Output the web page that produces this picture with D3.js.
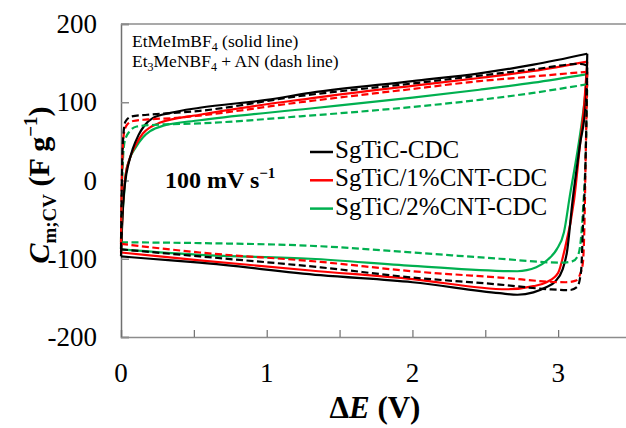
<!DOCTYPE html>
<meta charset="utf-8">
<html>
  <head>
    <style>
      body { margin: 0; background: #fff; }
      svg text { font-family: "Liberation Serif", "Times New Roman", serif; fill: #000; }
    </style>
  </head>
  <body>
    <div id="chart"></div>
  </body>
<script src="https://d3js.org/d3.v7.min.js"></script>
<script>
// CV curves, potential (V) vs specific capacitance (F/g); each loop = forward sweep then reverse sweep
var sgticIL = [[0,-97],[0.005,-70],[0.015,-30],[0.03,0],[0.05,20],[0.08,40],[0.12,58],[0.16,70],[0.22,80],[0.34,86.5],[0.54,93],[1.0,103],[1.3,112],[2.0,127],[2.46,137],[2.83,148],[3.2,162],
  [3.19,100],[3.15,46],[3.1,-24],[3.06,-92],[3.03,-114],[2.98,-129],[2.91,-137],[2.83,-143],[2.72,-146],[2.6,-144],[2.0,-130],[1.37,-121],[0.54,-105],[0.2,-100],[0,-97]]
var cnt1IL = [[0,-92],[0.005,-65],[0.015,-25],[0.03,5],[0.06,28],[0.1,45],[0.15,60],[0.2,68],[0.27,74],[0.54,84],[1.3,105],[2.0,121],[2.46,131],[2.83,140],[3.2,152],
  [3.18,100],[3.15,46],[3.11,-24],[3.04,-92],[3.0,-118],[2.92,-130],[2.83,-135],[2.65,-139],[2.0,-126],[1.3,-115],[0.54,-102],[0,-92]]
var cnt2IL = [[0,-88],[0.005,-60],[0.02,-20],[0.034,10],[0.06,28],[0.1,42],[0.15,55],[0.2,63],[0.29,70],[0.54,77],[1.3,92],[2.0,106],[2.46,116],[2.83,125],[3.2,136],
  [3.18,100],[3.14,46],[3.08,-20],[3.04,-66],[2.99,-88],[2.93,-101],[2.85,-111],[2.72,-116],[2.0,-109],[1.3,-100],[0.54,-95],[0,-88]]
var sgticAN = [[0,-88],[0.003,-40],[0.008,20],[0.015,55],[0.03,75],[0.073,82],[0.18,84],[0.54,89],[1.23,108],[2.0,124],[2.46,134],[2.83,142],[3.15,149],[3.2,147],
  [3.19,40],[3.17,-60],[3.16,-110],[3.15,-125],[3.13,-136],[3.08,-140],[2.94,-139],[2.6,-133],[2.0,-124],[1.37,-111],[0.54,-97],[0,-88]]
var cnt1AN = [[0,-81],[0.003,-30],[0.01,30],[0.02,60],[0.04,71],[0.083,76],[0.18,78],[0.38,80],[0.54,83],[1.23,100],[2.0,117],[2.46,127],[2.83,133],[3.2,139],
  [3.19,40],[3.18,-60],[3.17,-105],[3.15,-120],[3.12,-128],[3.05,-130],[2.6,-124],[2.0,-116],[1.37,-104],[0.54,-92],[0,-81]]
var cnt2AN = [[0,-79],[0.004,-30],[0.012,20],[0.025,50],[0.06,63],[0.108,69],[0.27,71.5],[0.54,73],[1.23,82],[2.0,94],[2.46,103],[2.83,112],[3.2,123],
  [3.19,40],[3.17,-40],[3.15,-85],[3.13,-98],[3.1,-103],[3.02,-105],[2.6,-100],[2.0,-92],[1.37,-84],[0.54,-80],[0,-79]]

var seriesNames = ["SgTiC-CDC", "SgTiC/1%CNT-CDC", "SgTiC/2%CNT-CDC"]
var seriesColors = ["#000000", "#ff0000", "#00b050"]
var yTicks = [-200, -100, 0, 100, 200]
var xLabelTicks = [0, 1, 2, 3]
var xMinorTicks = [0, 0.5, 1, 1.5, 2, 2.5, 3, 3.5]

var W = 626, H = 428

var svg = d3.select("#chart").append("svg")
  .attr("width", W).attr("height", H)
  .attr("font-family", "'Liberation Serif', 'Times New Roman', serif")

var x = d3.scaleLinear().domain([0, 3.5]).range([121, 631])
var y = d3.scaleLinear().domain([-200, 200]).range([337, 24])

// frame top
svg.append("line")
  .attr("x1", x(0)).attr("x2", W).attr("y1", y(200)).attr("y2", y(200))
  .style("stroke", "#8c8c8c").style("stroke-width", 1.5)

// y axis
var yAxis = svg.append("g")
  .attr("transform", "translate(" + x(0) + ",0)")
  .call(d3.axisRight(y).tickValues(yTicks).tickSize(8).tickFormat(""))
yAxis.select(".domain").style("stroke", "#707070").style("stroke-width", 1.5)
yAxis.selectAll(".tick line").style("stroke", "#8c8c8c").style("stroke-width", 1.5)

svg.selectAll(".ylab")
  .data(yTicks)
  .enter().append("text")
    .attr("x", 97)
    .attr("y", function(d) { return y(d) + 9 })
    .attr("text-anchor", "end")
    .style("font-size", "27px")
    .text(function(d) { return d })

// x axis
var xAxis = svg.append("g")
  .attr("transform", "translate(0," + y(-200) + ")")
  .call(d3.axisTop(x).tickValues(xMinorTicks).tickSize(7).tickFormat(""))
xAxis.select(".domain").style("stroke", "#8c8c8c").style("stroke-width", 1.5)
xAxis.selectAll(".tick line").style("stroke", "#707070").style("stroke-width", 1.2)

svg.selectAll(".xlab")
  .data(xLabelTicks)
  .enter().append("text")
    .attr("x", function(d) { return x(d) })
    .attr("y", 382)
    .attr("text-anchor", "middle")
    .style("font-size", "27px")
    .text(function(d) { return d })

// curves: split each loop into forward and reverse sweep so monotone interpolation works
var line = d3.line()
  .x(function(d) { return x(d[0]) })
  .y(function(d) { return y(d[1]) })
  .curve(d3.curveMonotoneX)

function branches(pts) {
  var iMax = d3.maxIndex(pts, function(d) { return d[0] })
  var fwd = pts.slice(0, iMax + 1)
  var rev = pts.slice(iMax).reverse()
  return [fwd, rev]
}

var curves = [
  {data: cnt2IL, color: seriesColors[2], dash: null},
  {data: cnt1IL, color: seriesColors[1], dash: null},
  {data: sgticIL, color: seriesColors[0], dash: null},
  {data: cnt2AN, color: seriesColors[2], dash: "7,3.5"},
  {data: cnt1AN, color: seriesColors[1], dash: "7,3.5"},
  {data: sgticAN, color: seriesColors[0], dash: "7,3.5"}
]

var paths = []
curves.forEach(function(c) {
  branches(c.data).forEach(function(b) { paths.push({pts: b, color: c.color, dash: c.dash}) })
})

svg.selectAll(".cv")
  .data(paths)
  .enter().append("path")
    .attr("d", function(d) { return line(d.pts) })
    .style("fill", "none")
    .style("stroke", function(d) { return d.color })
    .style("stroke-width", 2.2)
    .style("stroke-linejoin", "round")
    .style("stroke-dasharray", function(d) { return d.dash })

// electrolyte notes
var note1 = svg.append("text").attr("x", 132).attr("y", 47).style("font-size", "17.5px")
note1.append("tspan").text("EtMeImBF")
note1.append("tspan").attr("dy", 4).style("font-size", "12px").text("4")
note1.append("tspan").attr("dy", -4).text(" (solid line)")
var note2 = svg.append("text").attr("x", 132).attr("y", 67).style("font-size", "17.5px")
note2.append("tspan").text("Et")
note2.append("tspan").attr("dy", 4).style("font-size", "12px").text("3")
note2.append("tspan").attr("dy", -4).text("MeNBF")
note2.append("tspan").attr("dy", 4).style("font-size", "12px").text("4")
note2.append("tspan").attr("dy", -4).text(" + AN (dash line)")

// scan rate
var rate = svg.append("text").attr("x", 165).attr("y", 188)
  .style("font-size", "24px").style("font-weight", "bold")
rate.append("tspan").text("100 mV s")
rate.append("tspan").attr("dy", -10).style("font-size", "15px").text("\u22121")

// legend
var leg = svg.selectAll(".leg")
  .data(seriesNames)
  .enter().append("g")
    .attr("transform", function(d, i) { return "translate(310," + (152 + i * 28.3) + ")" })
leg.append("line")
  .attr("x1", 0).attr("x2", 23)
  .style("stroke", function(d, i) { return seriesColors[i] })
  .style("stroke-width", 2.5)
leg.append("text")
  .attr("x", 25).attr("y", 6)
  .style("font-size", "25px")
  .text(function(d) { return d })

// axis titles
var xt = svg.append("text").attr("x", 375).attr("y", 418)
  .attr("text-anchor", "middle")
  .style("font-size", "31px").style("font-weight", "bold")
xt.append("tspan").text("\u0394")
xt.append("tspan").style("font-style", "italic").text("E")
xt.append("tspan").text(" (V)")

var yt = svg.append("text")
  .attr("transform", "translate(49,185) rotate(-90)")
  .attr("text-anchor", "middle")
  .style("font-size", "30px").style("font-weight", "bold")
yt.append("tspan").style("font-style", "italic").text("C")
yt.append("tspan").attr("dy", 7).style("font-size", "19px").text("m;CV")
yt.append("tspan").attr("dy", -7).text(" (F g")
yt.append("tspan").attr("dy", -12).style("font-size", "19px").text("\u22121")
yt.append("tspan").attr("dy", 12).text(")")
</script>
</html>
